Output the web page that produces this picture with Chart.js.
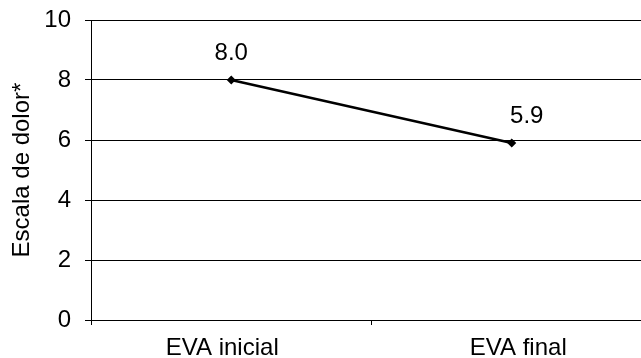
<!DOCTYPE html>
<html>
<head>
<meta charset="utf-8">
<style>
  html, body { margin: 0; padding: 0; background: #fff; overflow: hidden; }
  #wrap { width: 700px; height: 358px; }
</style>
<script src="https://cdn.jsdelivr.net/npm/chart.js@4/dist/chart.umd.min.js"></script>
</head>
<body>
<div id="wrap"><canvas id="c" width="700" height="358"></canvas></div>
<script>
const categories = ["EVA inicial", "EVA final"];
const painValues = [8.0, 5.9];
const yTicks = [0, 2, 4, 6, 8, 10];
const axisTitle = "Escala de dolor*";

const FONT = "'Liberation Sans', Arial, Helvetica, sans-serif";
const labelOffsets = [{dx: 0, dy: -27}, {dx: 15, dy: -27}];
const catLabelShift = [-9, 6.5];

const valueLabels = {
  id: 'valueLabels',
  afterDatasetsDraw(chart) {
    const ctx = chart.ctx;
    const meta = chart.getDatasetMeta(0);
    ctx.save();
    ctx.font = "24px " + FONT;
    ctx.fillStyle = "#000";
    ctx.textAlign = "center";
    ctx.textBaseline = "middle";
    meta.data.forEach((pt, i) => {
      const o = labelOffsets[i] || {dx: 0, dy: -27};
      ctx.fillText(painValues[i].toFixed(1), pt.x + o.dx, pt.y + o.dy);
    });
    // category labels
    const xs = chart.scales.x;
    categories.forEach((c, i) => {
      const x = xs.getPixelForValue(i) + (catLabelShift[i] || 0);
      ctx.fillText(c, x, xs.top + 28);
    });
    ctx.restore();
  }
};

new Chart(document.getElementById('c'), {
  type: 'line',
  data: {
    labels: categories,
    datasets: [{
      data: painValues,
      borderColor: '#000',
      backgroundColor: '#000',
      borderWidth: 2.5,
      pointStyle: 'rectRot',
      pointRadius: 4.5,
      pointBorderWidth: 0,
      pointBackgroundColor: '#000',
      tension: 0,
      fill: false
    }]
  },
  options: {
    responsive: false,
    animation: false,
    devicePixelRatio: 1,
    layout: { padding: { top: 20, right: 48, bottom: 0, left: 0 } },
    plugins: { legend: { display: false }, tooltip: { enabled: false } },
    scales: {
      x: {
        type: 'category',
        offset: true,
        grid: { offset: true, drawOnChartArea: false, drawTicks: true, tickLength: 5, color: '#000', lineWidth: 1 },
        border: { display: true, color: '#000', width: 1 },
        ticks: { display: false, color: '#000', font: { family: FONT, size: 24 }, padding: 9, maxRotation: 0 },
        afterFit(s) { s.height = 38; s.paddingLeft = 0; s.paddingRight = 0; }
      },
      y: {
        min: 0, max: 10,
        afterBuildTicks(s) { s.ticks = yTicks.map(v => ({ value: v })); },
        grid: { color: '#000', lineWidth: 1, tickLength: 6, drawTicks: true },
        border: { display: true, color: '#000', width: 1 },
        ticks: { color: '#000', font: { family: FONT, size: 24 }, padding: 14 },
        title: { display: true, text: axisTitle, color: '#000', font: { family: FONT, size: 24 }, padding: { top: 8, bottom: 0 } },
        afterFit(s) { s.width = 91; s.paddingTop = 0; s.paddingBottom = 0; }
      }
    }
  },
  plugins: [valueLabels]
});
</script>
</body>
</html>
